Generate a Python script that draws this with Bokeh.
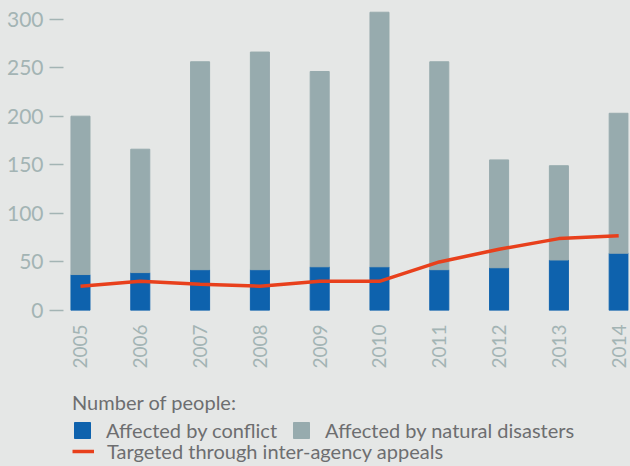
import math
from bokeh.plotting import figure
from bokeh.layouts import column
from bokeh.models import ColumnDataSource, FixedTicker, Legend, LegendItem, Range1d
from bokeh.embed import file_html
from bokeh.resources import INLINE

years = [2005, 2006, 2007, 2008, 2009, 2010, 2011, 2012, 2013, 2014]
conflict = [37, 39, 42, 42, 45, 45, 42, 44, 52, 59]
natural = [163, 127, 214, 224, 201, 262, 214, 111, 97, 144]
targeted = [25, 30, 27, 25, 30, 30, 50, 63, 74, 77]
y_ticks = [0, 50, 100, 150, 200, 250, 300]

BG = "#e5e7e6"
BLUE = "#0e62ad"
GREY = "#97abae"
RED = "#e8401c"
TICK = "#a3b4b4"
TEXT = "#6d6e70"
FONT = "Lato"

source = ColumnDataSource(dict(year=years, conflict=conflict, natural=natural, targeted=targeted))

p = figure(width=630, height=375, output_backend="svg", toolbar_location=None,
           x_range=Range1d(2004.716, 2014.164), y_range=Range1d(0, 309.8),
           background_fill_color=BG, border_fill_color=BG,
           min_border_left=63, min_border_right=2, min_border_top=9, min_border_bottom=65,
           outline_line_color=None)

bars = p.vbar_stack(["conflict", "natural"], x="year", width=0.318, color=[BLUE, GREY],
                    line_color=[BLUE, GREY], source=source)
line = p.line("year", "targeted", source=source, line_color=RED, line_width=3.5)

p.xgrid.grid_line_color = None
p.ygrid.grid_line_color = None

p.yaxis.ticker = FixedTicker(ticks=y_ticks)
p.yaxis.axis_line_color = None
p.yaxis.major_tick_out = 14
p.yaxis.major_tick_in = 0
p.yaxis.minor_tick_line_color = None
p.yaxis.major_tick_line_color = TICK
p.yaxis.major_tick_line_width = 1.5
p.yaxis.major_label_standoff = 6
p.yaxis.major_label_text_font = FONT
p.yaxis.major_label_text_font_size = "21px"
p.yaxis.major_label_text_color = TICK

p.xaxis.ticker = FixedTicker(ticks=years)
p.xaxis.axis_line_color = None
p.xaxis.major_tick_line_color = None
p.xaxis.minor_tick_line_color = None
p.xaxis.major_label_orientation = math.pi / 2
p.xaxis.major_label_standoff = 8
p.xaxis.major_label_text_font = FONT
p.xaxis.major_label_text_font_size = "19px"
p.xaxis.major_label_text_color = TICK

# legend panel
lg = figure(width=630, height=91, output_backend="svg", toolbar_location=None,
            x_range=Range1d(0, 1), y_range=Range1d(0, 1),
            background_fill_alpha=0, border_fill_alpha=0, outline_line_color=None,
            min_border=0, x_axis_type=None, y_axis_type=None)
lg.xgrid.grid_line_color = None
lg.ygrid.grid_line_color = None
hidden = ColumnDataSource(dict(x=[-10], top=[-5], y=[-10]))
d_conf = lg.vbar(x="x", top="top", width=0.1, color=BLUE, source=hidden)
d_nat = lg.vbar(x="x", top="top", width=0.1, color=GREY, source=hidden)
d_line = lg.line(x="x", y="y", line_color=RED, line_width=3.5, source=hidden)

common = dict(background_fill_alpha=0, border_line_color=None, padding=0, margin=0,
              label_text_font=FONT, label_text_font_size="20px", label_text_color=TEXT,
              orientation="horizontal", label_height=18)

leg1 = Legend(title="Number of people:",
              items=[LegendItem(label="Affected by conflict", renderers=[d_conf]),
                     LegendItem(label="Affected by natural disasters", renderers=[d_nat])],
              location=(9, 24), glyph_width=20, glyph_height=20, label_standoff=14, spacing=14,
              title_text_font=FONT, title_text_font_size="20px", title_text_color=TEXT,
              title_text_font_style="normal", title_standoff=4, **common)
leg2 = Legend(items=[LegendItem(label="Targeted through inter-agency appeals", renderers=[d_line])],
              location=(9, 3), glyph_width=22, glyph_height=18, label_standoff=13, **common)
lg.add_layout(leg1)
lg.add_layout(leg2)

layout = column(p, lg, spacing=0, styles={"background-color": BG})
open("out.html", "w").write(file_html(layout, INLINE))
